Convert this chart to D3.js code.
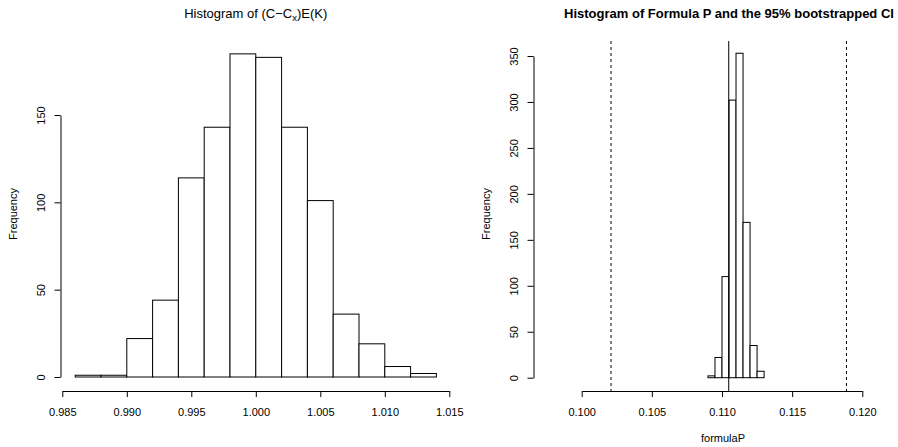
<!DOCTYPE html>
<html>
<head>
<meta charset="utf-8">
<script src="https://cdn.jsdelivr.net/npm/d3@7"></script>
<style>
  body { margin: 0; background: #fff; }
  svg { display: block; font-family: "Liberation Sans", Arial, Helvetica, sans-serif; }
  .axis path, .axis line { stroke: #000; stroke-width: 1; }
  .axis text { fill: #000; font-size: 11px; }
  .bar { fill: #fff; stroke: #000; stroke-width: 1; }
</style>
</head>
<body>
<svg id="chart" width="898" height="447"></svg>
<script>
// left panel: histogram of (C-Cx)E(K)
const leftBreaks = [0.986, 0.988, 0.990, 0.992, 0.994, 0.996, 0.998, 1.000,
                    1.002, 1.004, 1.006, 1.008, 1.010, 1.012, 1.014];
const leftCounts = [1, 1, 22, 44, 114, 143, 185, 183, 143, 101, 36, 19, 6, 2];
const leftXTicks = [0.985, 0.990, 0.995, 1.000, 1.005, 1.010, 1.015];
const leftYTicks = [0, 50, 100, 150];

// right panel: histogram of formula P with bootstrapped CI
const rightBreaks = [0.1090, 0.1095, 0.1100, 0.1105, 0.1110, 0.1115, 0.1120, 0.1125, 0.1130];
const rightCounts = [2, 22, 110, 302, 353, 169, 35, 7];
const rightXTicks = [0.100, 0.105, 0.110, 0.115, 0.120];
const rightYTicks = [0, 50, 100, 150, 200, 250, 300, 350];
const meanP = 0.11048;
const ciBounds = [0.10209, 0.11887];

const svg = d3.select("#chart");
svg.append("rect").attr("width", 898).attr("height", 447).attr("fill", "#fff");

function drawPanel(opts) {
  const x = d3.scaleLinear().domain(d3.extent(opts.xTicks)).range(opts.xRange);
  const y = d3.scaleLinear().domain(d3.extent(opts.yTicks)).range(opts.yRange);
  const g = svg.append("g");

  // bars
  const bins = opts.counts.map((c, i) => ({ x0: opts.breaks[i], x1: opts.breaks[i + 1], n: c }));
  g.selectAll(".bar")
    .data(bins)
    .enter().append("rect")
    .attr("class", "bar")
    .attr("x", d => x(d.x0))
    .attr("y", d => y(d.n))
    .attr("width", d => x(d.x1) - x(d.x0))
    .attr("height", d => y(0) - y(d.n));

  // x axis
  const xa = g.append("g")
    .attr("class", "axis")
    .attr("transform", "translate(0," + opts.xAxisY + ")")
    .call(d3.axisBottom(x).tickValues(opts.xTicks).tickFormat(d3.format(".3f")).tickSize(6).tickSizeOuter(0));
  xa.selectAll("text").attr("y", 25).attr("dy", 0);

  // y axis, labels parallel to axis like base R
  const ya = g.append("g")
    .attr("class", "axis")
    .attr("transform", "translate(" + opts.yAxisX + ",0)")
    .call(d3.axisLeft(y).tickValues(opts.yTicks).tickFormat(d3.format("d")).tickSize(6).tickSizeOuter(0));
  ya.selectAll("text")
    .attr("transform", "rotate(-90)")
    .attr("x", 0).attr("y", -16).attr("dy", 0)
    .attr("text-anchor", "middle");

  g.append("text")
    .attr("transform", "translate(" + (opts.yAxisX - 44) + ",214) rotate(-90)")
    .attr("text-anchor", "middle")
    .attr("font-size", 11)
    .text("Frequency");

  return { g: g, x: x, y: y };
}

// left
const left = drawPanel({
  breaks: leftBreaks, counts: leftCounts, xTicks: leftXTicks, yTicks: leftYTicks,
  xRange: [62.3, 449.3], yRange: [377, 115], xAxisY: 391, yAxisX: 60.5
});
const lt = left.g.append("text")
  .attr("x", 255.7).attr("y", 18)
  .attr("text-anchor", "middle")
  .attr("font-size", 13);
lt.append("tspan").text("Histogram of (C\u2212C");
lt.append("tspan").attr("font-size", 9.5).attr("dy", 3).text("x");
lt.append("tspan").attr("dy", -3).text(")E(K)");

// right
const right = drawPanel({
  breaks: rightBreaks, counts: rightCounts, xTicks: rightXTicks, yTicks: rightYTicks,
  xRange: [581.7, 862.3], yRange: [377.7, 56], xAxisY: 391, yAxisX: 533.5
});
right.g.append("line")
  .attr("x1", right.x(meanP)).attr("x2", right.x(meanP))
  .attr("y1", 41).attr("y2", 391)
  .attr("stroke", "#000").attr("stroke-width", 1);
right.g.selectAll(".ci")
  .data(ciBounds)
  .enter().append("line")
  .attr("class", "ci")
  .attr("x1", d => right.x(d)).attr("x2", d => right.x(d))
  .attr("y1", 41).attr("y2", 391)
  .attr("stroke", "#000").attr("stroke-width", 1)
  .attr("stroke-dasharray", "3,3");
right.g.append("text")
  .attr("x", 729).attr("y", 18)
  .attr("text-anchor", "middle")
  .attr("font-size", 13).attr("font-weight", "bold")
  .text("Histogram of Formula P and the 95% bootstrapped CI");
right.g.append("text")
  .attr("x", 723).attr("y", 441.5)
  .attr("text-anchor", "middle")
  .attr("font-size", 11)
  .text("formulaP");
</script>
</body>
</html>
